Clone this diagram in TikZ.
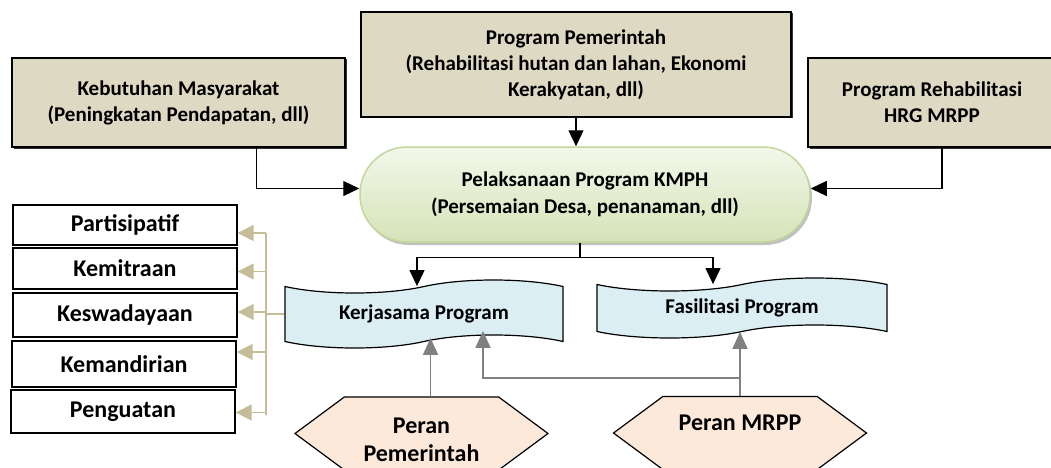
\documentclass[tikz,border=0pt]{standalone}
\usepackage{fontspec}
\setmainfont{Carlito}
\usetikzlibrary{arrows.meta,shapes.symbols,shadows}

\definecolor{tanfill}{HTML}{DDD9C3}
\definecolor{tanline}{HTML}{C4BD97}
\definecolor{tapeblue}{HTML}{DAEEF3}
\definecolor{peach}{HTML}{FDE9D9}
\definecolor{leafhi}{HTML}{F3F7EA}
\definecolor{leaflo}{HTML}{D5E3B8}
\definecolor{leafedge}{HTML}{C3D69B}
\definecolor{feedgray}{HTML}{808080}

\begin{document}
\begin{tikzpicture}
          [x=1pt,y=-1pt,
           srcbox/.style={draw, line width=1.2pt, fill=tanfill, align=center, inner sep=0pt,
             font=\fontsize{21}{26}\selectfont\bfseries,
             drop shadow={shadow xshift=1.5pt, shadow yshift=-1.5pt, fill=black, opacity=.8}},
           kmphbox/.style={draw=leafedge, line width=1.5pt, rounded corners=47pt, top color=leafhi,
             bottom color=leaflo, minimum width=450pt, minimum height=95pt, align=center, inner sep=0pt,
             font=\fontsize{21}{27}\selectfont\bfseries,
             drop shadow={shadow xshift=2pt, shadow yshift=-3pt, fill=gray!70, opacity=.7}},
           tapebox/.style={tape, draw, line width=1.2pt, fill=tapeblue, tape bend height=13pt,
             inner sep=0pt, font=\fontsize{21}{26}\selectfont\bfseries},
           rolebox/.style={signal, signal to=west and east, signal pointer angle=73, draw, line width=1.2pt,
             fill=peach, minimum width=253pt, minimum height=73pt, inner sep=0pt, align=center,
             font=\fontsize{24}{28}\selectfont\bfseries},
           valuebox/.style={draw, line width=1.4pt, fill=white, minimum width=224pt, inner sep=0pt,
             font=\fontsize{24}{28}\selectfont\bfseries},
           link/.style={line width=1.2pt, -{Triangle[length=16pt,width=15pt]}},
           feed/.style={feedgray, line width=1.6pt, -{Triangle[length=17pt,width=15pt]}},
           tanarrow/.style={tanline, line width=1.6pt, -{Triangle[length=16pt,width=16pt]}}]
        \useasboundingbox (0,0) rectangle (1051,468);

        % sources on top
        \node[srcbox, minimum width=333pt, minimum height=89pt] (kebutuhan) at (178.5,102.5) {Kebutuhan Masyarakat\\(Peningkatan Pendapatan, dll)};
        \node[srcbox, minimum width=430pt, minimum height=105pt] (pemerintah) at (576,64.5) {Program Pemerintah\\(Rehabilitasi hutan dan lahan, Ekonomi\\Kerakyatan, dll)};
        \node[srcbox, minimum width=248pt, minimum height=89pt] (hrg) at (932,102.5) {Program Rehabilitasi\\HRG MRPP};

        \node[kmphbox] (kmph) at (585,194.5) {Pelaksanaan Program KMPH\\(Persemaian Desa, penanaman, dll)};

        \node[tapebox, minimum width=278pt, minimum height=68pt] (kerja) at (424,314) {Kerjasama Program};
        \node[tapebox, minimum width=290pt, minimum height=60pt] (fasil) at (742,308) {Fasilitasi Program};

        \node[rolebox] (perpem) at (421.5,433.5) {\raisebox{0pt}[\dimexpr\height+16pt][\depth]{\begin{tabular}{@{}c@{}}Peran\\Pemerintah\end{tabular}}};
        \node[rolebox] (permrpp) at (740,433) {\raisebox{0pt}[\height][\dimexpr\depth+20pt]{Peran MRPP}};

        % values on the left
        \node[valuebox, minimum height=40pt] (parti) at (125,225) {Partisipatif};
        \node[valuebox, minimum height=41pt] (mitra) at (125,268.5) {Kemitraan};
        \node[valuebox, minimum height=44pt] (swada) at (125,315) {Keswadayaan};
        \node[valuebox, minimum height=46pt] (mandiri) at (124,364) {Kemandirian};
        \node[valuebox, minimum height=43pt] (kuat) at (123,411.5) {Penguatan};

        \draw[link] ([xshift=78pt]kebutuhan.south) |- ([yshift=6pt]kmph.west);
        \draw[link] (pemerintah.south) -- (pemerintah.south |- kmph.north);
        \draw[link] ([xshift=10pt]hrg.south) |- ([yshift=6pt]kmph.east);
        \draw[link] ([xshift=-5pt]kmph.south) -- ++(0,15) -| ([xshift=-7pt]kerja.north);
        \draw[link] ([xshift=-5pt]kmph.south) -- ++(0,15) -| ([xshift=-29pt]fasil.north);

        \draw[feed] ([xshift=9pt]perpem.north) -- ([xshift=9pt,yshift=4pt]perpem.north |- kerja.south);
        \draw[feed] (permrpp.north) -- (permrpp.north |- fasil.south);
        \draw[feed] (permrpp.north) ++(0,-18) -| ([xshift=59pt,yshift=11pt]kerja.south);

        \coordinate (spine) at (266,233);
        \draw[tanline, line width=1.6pt] (kerja.west) -- (kerja.west -| spine);
        \draw[tanline, line width=1.6pt] (spine) -- ++(0,182);
      \foreach \b/\dy in {parti/-8, mitra/-3, swada/3, mandiri/12, kuat/-1}
        {\path ([yshift=\dy pt]\b.east) coordinate (tip);
         \draw[tanarrow] (tip -| spine) -- (tip);}
      \end{tikzpicture}
\end{document}
